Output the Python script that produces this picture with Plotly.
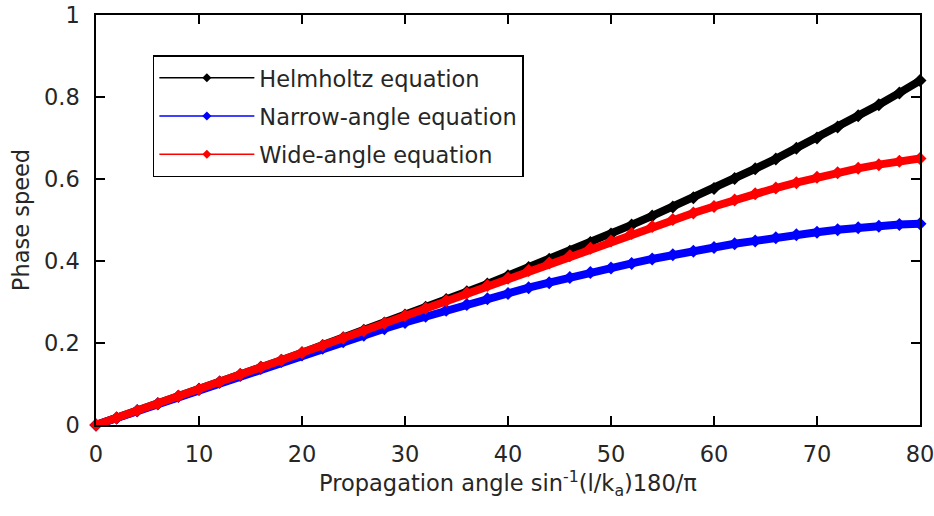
import plotly.graph_objects as go

angle_deg = [0, 2, 4, 6, 8, 10, 12, 14, 16, 18, 20, 22, 24, 26, 28, 30, 32, 34, 36, 38, 40,
             42, 44, 46, 48, 50, 52, 54, 56, 58, 60, 62, 64, 66, 68, 70, 72, 74, 76, 78, 80]

helmholtz = [0.000, 0.017, 0.035, 0.052, 0.070, 0.087, 0.105, 0.123, 0.141, 0.158, 0.176,
             0.194, 0.213, 0.231, 0.249, 0.268, 0.287, 0.306, 0.325, 0.344, 0.364,
             0.384, 0.404, 0.424, 0.445, 0.466, 0.488, 0.510, 0.532, 0.554, 0.577,
             0.601, 0.625, 0.649, 0.675, 0.700, 0.727, 0.754, 0.781, 0.810, 0.840]

narrow_angle = [0.000, 0.017, 0.035, 0.052, 0.070, 0.087, 0.104, 0.121, 0.138, 0.155, 0.171,
                0.187, 0.203, 0.219, 0.235, 0.250, 0.265, 0.280, 0.294, 0.308, 0.321,
                0.335, 0.347, 0.360, 0.372, 0.383, 0.394, 0.405, 0.415, 0.424, 0.433,
                0.442, 0.449, 0.457, 0.464, 0.470, 0.476, 0.481, 0.485, 0.489, 0.491]

wide_angle = [0.000, 0.017, 0.035, 0.052, 0.070, 0.087, 0.105, 0.123, 0.141, 0.158, 0.176,
              0.194, 0.212, 0.230, 0.248, 0.267, 0.285, 0.303, 0.322, 0.340, 0.358,
              0.377, 0.395, 0.413, 0.431, 0.449, 0.467, 0.484, 0.501, 0.517, 0.533,
              0.549, 0.564, 0.578, 0.591, 0.604, 0.615, 0.626, 0.635, 0.643, 0.650]

series_names = ["Helmholtz equation", "Narrow-angle equation", "Wide-angle equation"]
series_colors = ["#000000", "#0000ff", "#ff0000"]
series_values = [helmholtz, narrow_angle, wide_angle]

x_ticks = [0, 10, 20, 30, 40, 50, 60, 70, 80]
y_ticks = [0, 0.2, 0.4, 0.6, 0.8, 1]
y_tick_labels = ["0", "0.2", "0.4", "0.6", "0.8", "1"]

FONT = "DejaVu Sans, Liberation Sans, Arial, sans-serif"
TXT = "#262626"
FS = 22.5

fig = go.Figure()
for name, color, vals in zip(series_names, series_colors, series_values):
    # dense band of the curve (as drawn in the reference)
    fig.add_trace(go.Scatter(
        x=angle_deg, y=vals, name=name, mode="lines+markers",
        legendgroup=name, showlegend=False,
        line=dict(color=color, width=8),
        marker=dict(symbol="diamond", size=10, color=color),
        cliponaxis=False,
    ))
for name, color in zip(series_names, series_colors):
    # legend entry: thin line with a diamond marker
    fig.add_trace(go.Scatter(
        x=[None], y=[None], name=name, mode="lines+markers",
        legendgroup=name, showlegend=True,
        line=dict(color=color, width=1.5),
        marker=dict(symbol="diamond", size=7, color=color),
    ))

axis_common = dict(
    showline=True, linecolor="black", linewidth=1.5, mirror="ticks",
    ticks="inside", ticklen=9, tickwidth=1.5, tickcolor="black",
    showgrid=False, zeroline=False, automargin=False,
    ticklabeloverflow="allow",
    tickfont=dict(family=FONT, size=FS, color=TXT),
)

fig.update_layout(
    width=934, height=516,
    margin=dict(l=96, r=14, t=15, b=91, autoexpand=False),
    paper_bgcolor="white", plot_bgcolor="white",
    font=dict(family=FONT, size=FS, color=TXT),
    showlegend=True,
    legend=dict(
        x=0.069, y=0.902, xanchor="left", yanchor="top",
        bordercolor="black", borderwidth=1.5, bgcolor="white",
        font=dict(family=FONT, size=FS, color=TXT),
        itemwidth=95, tracegroupgap=6, traceorder="grouped",
    ),
    xaxis=dict(range=[0, 80], tickvals=x_ticks, ticklabelstandoff=8,
               title=dict(text="Propagation angle sin<sup>-1</sup>(l/k<sub>a</sub>)180/π",
                          font=dict(family=FONT, size=FS, color=TXT), standoff=6),
               **axis_common),
    yaxis=dict(range=[0, 1], tickvals=y_ticks, ticktext=y_tick_labels, ticklabelstandoff=10,
               title=dict(text="Phase speed", font=dict(family=FONT, size=FS, color=TXT),
                          standoff=8),
               **axis_common),
)

fig.write_html("out.html")
